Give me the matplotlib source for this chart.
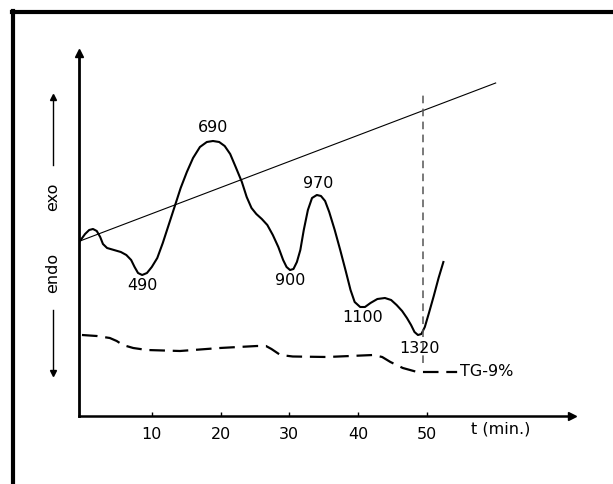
import matplotlib.pyplot as plt
from matplotlib.lines import Line2D

# DTA curve (time in min, signal in arbitrary units)
dta_t = [-0.44, 0.3, 0.9, 1.45, 2.0, 2.5, 2.9, 3.5, 4.5, 5.5, 6.3, 7.0, 7.5, 8.0, 8.6,
         9.3, 10.0, 10.8, 11.6, 12.5, 13.4, 14.2, 15.1, 16.0, 17.0, 18.0, 18.9, 19.8,
         20.6, 21.4, 22.2, 23.1, 23.8, 24.5, 25.2, 26.0, 26.8, 27.6, 28.4, 29.1, 29.6,
         30.1, 30.6, 31.1, 31.6, 32.1, 32.7, 33.3, 34.0, 34.6, 35.2, 35.8, 36.6, 37.4,
         38.2, 38.9, 39.5, 40.3, 41.0, 41.8, 42.8, 43.9, 44.8, 45.6, 46.4, 47.1, 47.7,
         48.2, 48.7, 49.2, 49.7, 50.3, 51.0, 51.7, 52.4]
dta_y = [17.5, 18.2, 18.6, 18.7, 18.5, 17.9, 17.2, 16.8, 16.6, 16.4, 16.1, 15.6, 14.9, 14.3, 14.1,
         14.3, 14.9, 15.8, 17.3, 19.2, 21.1, 22.8, 24.4, 25.8, 26.9, 27.4, 27.5, 27.4,
         27.0, 26.2, 24.9, 23.4, 21.9, 20.8, 20.2, 19.7, 19.1, 18.1, 16.9, 15.6, 14.9,
         14.6, 14.7, 15.4, 16.6, 18.6, 20.6, 21.8, 22.1, 22.0, 21.5, 20.4, 18.6, 16.6,
         14.5, 12.6, 11.4, 10.9, 10.9, 11.3, 11.7, 11.8, 11.6, 11.1, 10.5, 9.8, 9.1,
         8.4, 8.1, 8.2, 8.9, 10.3, 12.0, 13.8, 15.4]

# TG curve
tg_t = [-0.15, 2.0, 3.9, 4.9, 5.8, 7.3, 9.3, 14.1, 19.9, 25.3, 26.6, 27.4, 28.7, 30.5,
        35.5, 42.2, 43.5, 44.7, 46.5, 48.6, 54.4]
tg_y = [8.1, 8.0, 7.8, 7.5, 7.1, 6.8, 6.6, 6.5, 6.8, 7.0, 7.0, 6.7, 6.1, 5.95,
        5.9, 6.1, 5.9, 5.4, 4.8, 4.4, 4.4]

# temperature line (start / end)
temp_t = [-0.44, 60.0]
temp_y = [17.5, 33.3]

# peak labels
peak_labels = ["490", "690", "900", "970", "1100", "1320"]
peak_t = [8.7, 18.9, 30.1, 34.2, 40.6, 49.0]
peak_y = [13.0, 28.8, 13.5, 23.2, 9.8, 6.7]

ticks = [10, 20, 30, 40, 50]

fig = plt.figure(figsize=(6.13, 4.84), dpi=100)
ax = fig.add_axes([0.1289, 0.1405, 0.8042, 0.75])
ax.set_xlim(-0.58, 71.1)
ax.set_ylim(0, 36.3)

ax.plot(dta_t, dta_y, color='black', lw=1.5, solid_joinstyle='round')
ax.plot(temp_t, temp_y, color='black', lw=0.8)
ax.plot(tg_t, tg_y, color='black', lw=1.6, linestyle=(0, (7, 3.5)))
ax.plot([49.5, 49.5], [5.3, 32.1], color='#555555', lw=1.1, linestyle=(0, (5, 3.5)))

for lab, t, y in zip(peak_labels, peak_t, peak_y):
    ax.text(t, y, lab, ha='center', va='center', fontsize=11.5)

ax.text(54.8, 4.4, "TG-9%", ha='left', va='center', fontsize=11.5)
ax.text(60.7, -1.3, "t (min.)", ha='center', va='center', fontsize=11.5, clip_on=False)

for s in ['top', 'right']:
    ax.spines[s].set_visible(False)
ax.spines['left'].set_linewidth(2)
ax.spines['bottom'].set_linewidth(1.8)
ax.set_yticks([])
ax.set_xticks(ticks)
ax.set_xticklabels([str(v) for v in ticks], fontsize=11.5)
ax.tick_params(axis='x', direction='in', length=3, width=1, pad=8)

# axis arrow heads
ax.plot(1, 0, '>', color='black', ms=6, transform=ax.transAxes, clip_on=False)
ax.plot(0, 1, '^', color='black', ms=6, transform=ax.transAxes, clip_on=False)

# exo / endo labels with arrows
fig.text(0.0865, 0.593, "exo", rotation=90, ha='center', va='center', fontsize=11.5)
fig.text(0.0865, 0.436, "endo", rotation=90, ha='center', va='center', fontsize=11.5)
fig.add_artist(Line2D([0.0865, 0.0865], [0.659, 0.800], color='black', lw=1))
fig.add_artist(Line2D([0.0865], [0.800], marker='^', color='black', ms=5))
fig.add_artist(Line2D([0.0865, 0.0865], [0.360, 0.229], color='black', lw=1))
fig.add_artist(Line2D([0.0865], [0.229], marker='v', color='black', ms=5))

# outer frame (top and left)
fig.add_artist(Line2D([0.019, 1.0], [0.975, 0.975], color='black', lw=3))
fig.add_artist(Line2D([0.0205, 0.0205], [0.977, 0.0], color='black', lw=3))

fig.savefig('out.png', dpi=100)
